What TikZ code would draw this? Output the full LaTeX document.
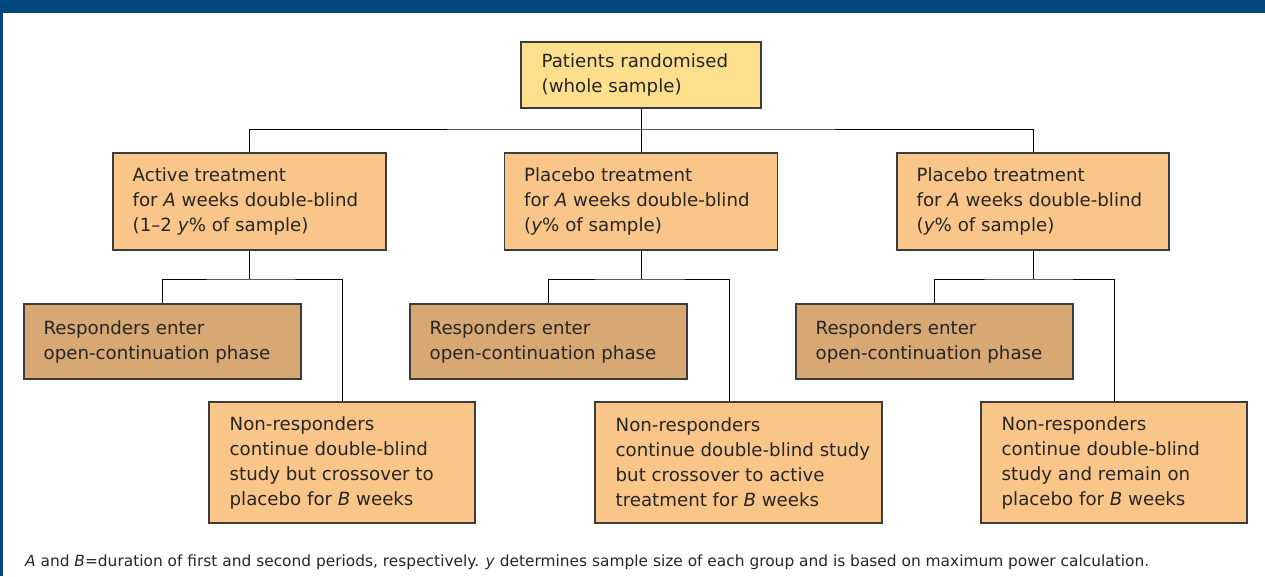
\documentclass[tikz,border=0pt]{standalone}
\usepackage{fontspec}
\setmainfont{DejaVu Sans}
\definecolor{hdrblue}{HTML}{00467F}
\definecolor{yel}{HTML}{FDDF8E}
\definecolor{peach}{HTML}{FAC589}
\definecolor{tanbox}{HTML}{D7A874}
\definecolor{edge}{HTML}{3C3C3C}
\definecolor{ink}{HTML}{262626}
\tikzset{
  boxbase/.style={draw=edge, line width=1.1pt, rectangle, inner sep=0pt},
  topbox/.style={boxbase, fill=yel},
  armbox/.style={boxbase, fill=peach},
  respbox/.style={boxbase, fill=tanbox},
  lbl/.style={anchor=west, align=left, inner sep=0pt, text=ink, font=\fontsize{18.2}{25}\selectfont},
  link/.style={draw=black, line width=1pt},
}
\begin{document}
\begin{tikzpicture}[x=1pt,y=-1pt]
\useasboundingbox (0,0) rectangle (1265,576);
\fill[white] (0,0) rectangle (1265,576);
% header and frame
\fill[hdrblue] (0,0) rectangle (1265,13);
\fill[hdrblue] (0,13) rectangle (3,576);

% top box
\node[topbox, minimum width=240pt, minimum height=66pt] (top) at (641,75) {};
\node[lbl] (topt) at ([xshift=21pt]top.west) {Patients randomised\\(whole sample)};

% arms
\node[armbox, minimum width=273pt, minimum height=97pt] (A) at (249.5,201.5) {};
\node[lbl] (At) at ([xshift=20pt]A.west) {Active treatment\\for \textit{A} weeks double-blind\\(1–2 \textit{y}\% of sample)};
\node[armbox, minimum width=273pt, minimum height=97pt] (B) at (641,201.5) {};
\node[lbl] (Bt) at ([xshift=20pt]B.west) {Placebo treatment\\for \textit{A} weeks double-blind\\(\textit{y}\% of sample)};
\node[armbox, minimum width=272pt, minimum height=97pt] (C) at (1033,201.5) {};
\node[lbl] (Ct) at ([xshift=20pt]C.west) {Placebo treatment\\for \textit{A} weeks double-blind\\(\textit{y}\% of sample)};

% responders
\node[respbox, minimum width=277pt, minimum height=75pt] (RA) at (162.5,341.5) {};
\node[lbl] (RAt) at ([xshift=20pt]RA.west) {Responders enter\\open-continuation phase};
\node[respbox, minimum width=277pt, minimum height=75pt] (RB) at (548.5,341.5) {};
\node[lbl] (RBt) at ([xshift=20pt]RB.west) {Responders enter\\open-continuation phase};
\node[respbox, minimum width=277pt, minimum height=75pt] (RC) at (934.5,341.5) {};
\node[lbl] (RCt) at ([xshift=20pt]RC.west) {Responders enter\\open-continuation phase};

% non-responders
\node[armbox, minimum width=266pt, minimum height=121pt] (NA) at (342,462.5) {};
\node[lbl] (NAt) at ([xshift=21pt]NA.west) {Non-responders\\continue double-blind\\study but crossover to\\placebo for \textit{B} weeks};
\node[armbox, minimum width=287pt, minimum height=121pt] (NB) at (738.5,462.5) {};
\node[lbl] (NBt) at ([xshift=21pt]NB.west) {Non-responders\\continue double-blind study\\but crossover to active\\treatment for \textit{B} weeks};
\node[armbox, minimum width=266pt, minimum height=121pt] (NC) at (1114,462.5) {};
\node[lbl] (NCt) at ([xshift=21pt]NC.west) {Non-responders\\continue double-blind\\study and remain on\\placebo for \textit{B} weeks};

% connectors
\coordinate (bus1) at (top.south |- 0,129);
\draw[link] (top.south) -- (B.north);
\draw[link] (A.north) |- (bus1) -| (C.north);

\coordinate (jA) at (A.south |- 0,279);
\coordinate (jB) at (B.south |- 0,279);
\coordinate (jC) at (C.south |- 0,279);
\draw[link] (A.south) -- (jA);
\draw[link] (B.south) -- (jB);
\draw[link] (C.south) -- (jC);
\draw[link] (RA.north) |- (jA) -| (NA.north);
\draw[link] (RB.north) |- (jB) -| ([xshift=-9pt]NB.north);
\draw[link] (RC.north) |- (jC) -| (NC.north);

% caption
\node[anchor=base west, inner sep=0pt, text=ink, font=\fontsize{15.4}{18}\selectfont] (cap) at (25,566)
  {\textit{A} and \textit{B}=duration of first and second periods, respectively. \textit{y} determines sample size of each group and is based on maximum power calculation.};
\end{tikzpicture}
\end{document}
